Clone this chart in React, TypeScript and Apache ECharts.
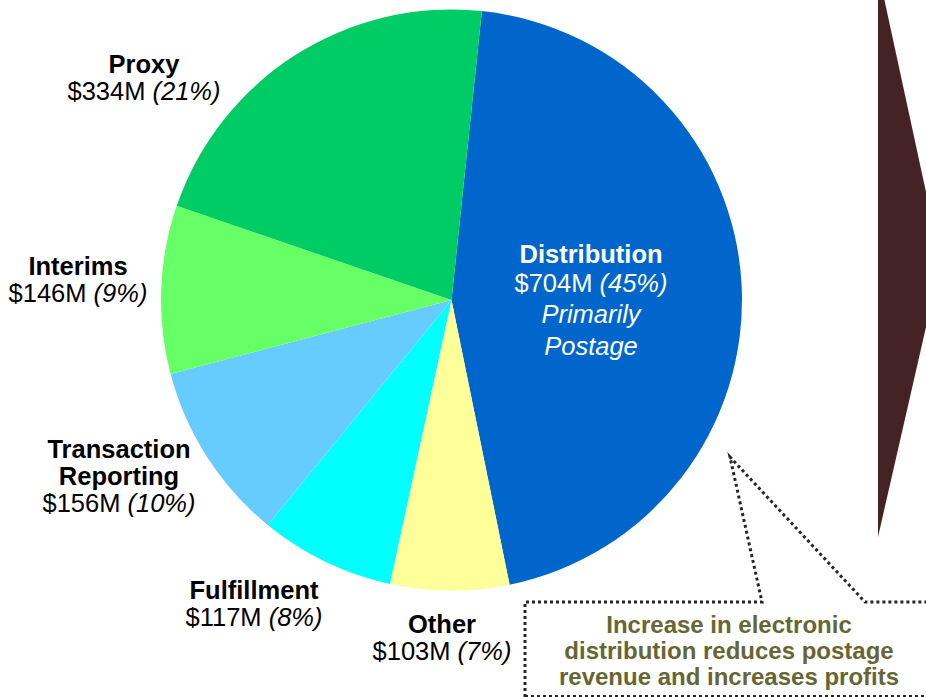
import React, { useEffect, useRef } from "react";
import * as echarts from "echarts";

const categories = ["Distribution", "Other", "Fulfillment", "Transaction Reporting", "Interims", "Proxy"];
const nameLines = [["Distribution"], ["Other"], ["Fulfillment"], ["Transaction", "Reporting"], ["Interims"], ["Proxy"]];
const valuesM = [704, 103, 117, 156, 146, 334];
const colors = ["#0066CC", "#FFFF99", "#00FFFF", "#66CCFF", "#66FF66", "#00CC66"];
const distributionNote = ["Primarily", "Postage"];
const calloutLines = ["Increase in electronic", "distribution reduces postage", "revenue and increases profits"];

// label block centres (layout only)
const labelPos: [number, number][] = [
  [591, 301],
  [442, 637],
  [254, 603],
  [119, 476],
  [78, 279],
  [144, 77],
];

const FONT = "'Liberation Sans', Arial, Helvetica, sans-serif";

export default function App() {
  const ref = useRef<HTMLDivElement>(null);
  useEffect(() => {
    if (!ref.current) return;
    const chart = echarts.init(ref.current, undefined, { renderer: "svg" });
    const total = valuesM.reduce((a, b) => a + b, 0);
    const data = categories.map((c, i) => ({
      name: c,
      value: valuesM[i],
      itemStyle: { color: colors[i] },
    }));
    const fs = 25.5;
    chart.setOption({
      animation: false,
      series: [
        {
          type: "pie",
          center: [451.5, 300],
          radius: [0, 290.5],
          startAngle: 84,
          clockwise: true,
          silent: true,
          data,
          itemStyle: { borderWidth: 0 },
          labelLine: { show: false },
          label: {
            position: "inside",
            overflow: "none",
            fontFamily: FONT,
            fontSize: fs,
            formatter: (p: any) => {
              const i = p.dataIndex;
              const pct = Math.round((valuesM[i] / total) * 100);
              if (i === 0) {
                return [
                  `{dn|${nameLines[i][0]}}`,
                  `{dv|$${valuesM[i]}M }{dp|(${pct}%)}`,
                  ...distributionNote.map((t) => `{di|${t}}`),
                ].join("\n");
              }
              return [
                ...nameLines[i].map((t) => `{n|${t}}`),
                `{v|$${valuesM[i]}M }{p|(${pct}%)}`,
              ].join("\n");
            },
            rich: {
              n: { fontFamily: FONT, fontSize: fs, fontWeight: "bold", color: "#000", lineHeight: 27 },
              v: { fontFamily: FONT, fontSize: fs, color: "#000", lineHeight: 27 },
              p: { fontFamily: FONT, fontSize: fs, fontStyle: "italic", color: "#000", lineHeight: 27 },
              dn: { fontFamily: FONT, fontSize: fs, fontWeight: "bold", color: "#fff", lineHeight: 28 },
              dv: { fontFamily: FONT, fontSize: fs, color: "#fff", lineHeight: 30 },
              dp: { fontFamily: FONT, fontSize: fs, fontStyle: "italic", color: "#fff", lineHeight: 30 },
              di: { fontFamily: FONT, fontSize: fs, fontStyle: "italic", color: "#fff", lineHeight: 32 },
            },
          },
          labelLayout: (params: any) => {
            const [x, y] = labelPos[params.dataIndex];
            return { x, y, align: "center", verticalAlign: "middle" };
          },
        },
      ],
      graphic: [
        {
          type: "polygon",
          shape: { points: [[878, -2], [884, -2], [926, 192], [926, 327], [878, 537]] },
          style: { fill: "#452224" },
          silent: true,
        },
        {
          type: "polyline",
          shape: {
            points: [[525, 697], [525, 602], [762, 602], [730, 457], [865, 602], [930, 602]],
          },
          style: { stroke: "#262626", lineWidth: 3, lineDash: [3, 3], fill: null },
          silent: true,
        },
        {
          type: "line",
          shape: { x1: 525, y1: 696, x2: 926, y2: 696 },
          style: { stroke: "#262626", lineWidth: 2, lineDash: [3, 3] },
          silent: true,
        },
        {
          type: "text",
          x: 729,
          y: 650,
          style: {
            text: calloutLines.join("\n"),
            font: `bold 24px ${FONT}`,
            fill: "#666633",
            align: "center",
            verticalAlign: "middle",
            lineHeight: 26,
          },
          silent: true,
        },
      ],
    });
    return () => chart.dispose();
  }, []);
  return (
    <div
      ref={ref}
      style={{ position: "absolute", left: 0, top: 0, width: 926, height: 697, background: "#fff" }}
    />
  );
}
